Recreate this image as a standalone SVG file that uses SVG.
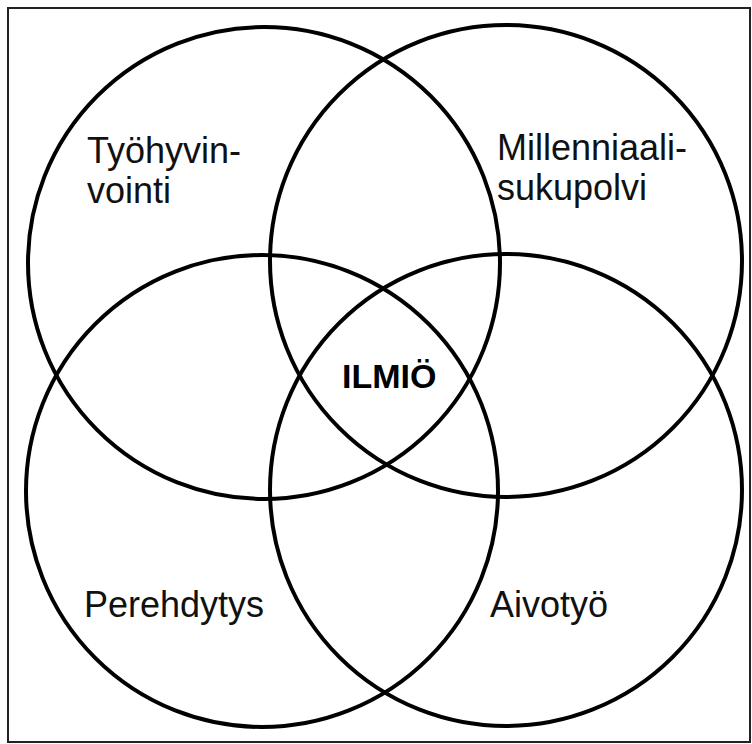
<svg xmlns="http://www.w3.org/2000/svg" width="752" height="744" viewBox="0 0 752 744">
<style>
.c{fill:none;stroke:#000;stroke-width:4}
.t{font-family:"Liberation Sans",Arial,sans-serif;font-size:36px;fill:#111}
.b{font-family:"Liberation Sans",Arial,sans-serif;font-size:34px;font-weight:bold;fill:#000}
</style>
<rect x="0" y="0" width="752" height="744" fill="#fff"/>
<rect x="8" y="8" width="742" height="734" fill="none" stroke="#222" stroke-width="2"/>
<g id="tyohyvinvointi">
<circle class="c" cx="264" cy="263" r="236"/>
<text class="t" x="87" y="163">Työhyvin-</text>
<text class="t" x="87" y="203">vointi</text>
</g>
<g id="millenniaalisukupolvi">
<circle class="c" cx="506" cy="261" r="236"/>
<text class="t" x="497" y="160">Millenniaali-</text>
<text class="t" x="497" y="200">sukupolvi</text>
</g>
<g id="perehdytys">
<circle class="c" cx="262" cy="491" r="236"/>
<text class="t" x="84" y="617">Perehdytys</text>
</g>
<g id="aivotyo">
<circle class="c" cx="506" cy="490" r="236"/>
<text class="t" x="490" y="617">Aivotyö</text>
</g>
<g id="ilmio">
<text class="b" x="342" y="388">ILMIÖ</text>
</g>
<g id="connectors"></g>
</svg>
